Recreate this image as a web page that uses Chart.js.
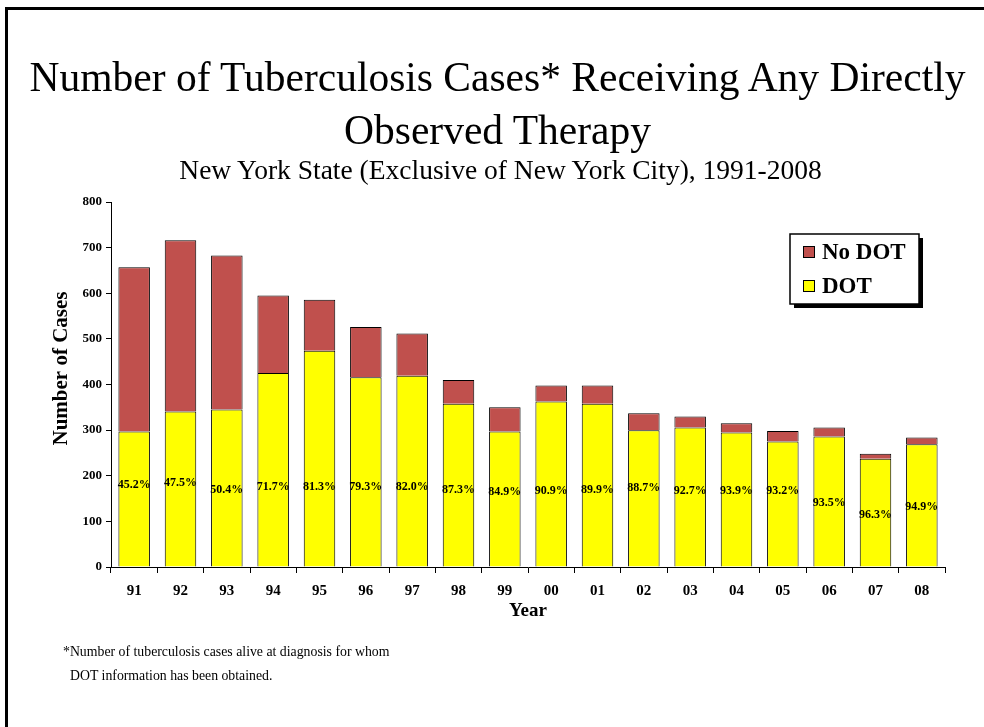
<!DOCTYPE html>
<html>
<head>
<meta charset="utf-8">
<script src="https://cdn.jsdelivr.net/npm/chart.js@4"></script>
<style>
  html, body { margin: 0; padding: 0; background: #fff; }
  #wrap { position: relative; width: 984px; height: 727px; overflow: hidden; font-family: "Liberation Serif", "Times New Roman", serif; }
  #frame { position: absolute; left: 5px; top: 7px; right: -10px; bottom: -10px; border-top: 3px solid #000; border-left: 3px solid #000; }
  .txt { position: absolute; white-space: nowrap; line-height: 1; color: #000; }
  #t1 { left: 0; width: 995px; text-align: center; top: 57px; font-size: 41.5px; }
  #t2 { left: 0; width: 995px; text-align: center; top: 110px; font-size: 41.5px; }
  #sub { left: 0; width: 1001px; text-align: center; top: 156px; font-size: 27.5px; }
  #f1 { left: 63px; top: 645px; font-size: 13.8px; }
  #f2 { left: 70px; top: 669px; font-size: 13.8px; }
  canvas { position: absolute; left: 0; top: 0; }
</style>
</head>
<body>
<div id="wrap">
  <div id="frame"></div>
  <canvas id="myChart" width="984" height="727"></canvas>
  <div class="txt" id="t1">Number of Tuberculosis Cases* Receiving Any Directly</div>
  <div class="txt" id="t2">Observed Therapy</div>
  <div class="txt" id="sub">New York State (Exclusive of New York City), 1991-2008</div>
  <div class="txt" id="f1">*Number of tuberculosis cases alive at diagnosis for whom</div>
  <div class="txt" id="f2">DOT information has been obtained.</div>
</div>
<script>
const years = ['91', '92', '93', '94', '95', '96', '97', '98', '99', '00', '01', '02', '03', '04', '05', '06', '07', '08'];
const dotCases = [297, 341, 345, 425, 474, 416, 419, 358, 297, 363, 358, 300, 306, 295, 275, 286, 237, 269];
const noDotCases = [360, 375, 338, 170, 112, 110, 93, 52, 53, 35, 40, 37, 24, 20, 23, 20, 11, 15];
const pctDot = ['45.2', '47.5', '50.4', '71.7', '81.3', '79.3', '82.0', '87.3', '84.9', '90.9', '89.9', '88.7', '92.7', '93.9', '93.2', '93.5', '96.3', '94.9'];
const yTicks = [0, 100, 200, 300, 400, 500, 600, 700, 800];

const serif = '"Liberation Serif", "Times New Roman", serif';

// where each % label sits, in axis units
const pctLevels = [180, 184, 169, 175, 175, 175, 175, 169, 164, 166, 169, 173, 166, 166, 166, 140, 114, 131];

const pctLabels = {
    id: 'pctLabels',
    afterDatasetsDraw(chart) {
        const { ctx } = chart;
        const meta = chart.getDatasetMeta(0);
        const y = chart.scales.y;
        ctx.save();
        ctx.font = 'bold 12px ' + serif;
        ctx.fillStyle = '#000';
        ctx.textAlign = 'center';
        ctx.textBaseline = 'middle';
        meta.data.forEach((bar, i) => {
            ctx.fillText(pctDot[i] + '%', bar.x, y.getPixelForValue(pctLevels[i]));
        });
        ctx.restore();
    }
};

// y title sits a bit above the axis middle in the original, so draw it by hand
const yTitle = {
    id: 'yTitle',
    afterDraw(chart) {
        const { ctx } = chart;
        const y = chart.scales.y;
        ctx.save();
        ctx.translate(62, y.getPixelForValue(435));
        ctx.rotate(-Math.PI / 2);
        ctx.font = 'bold 21px ' + serif;
        ctx.fillStyle = '#000';
        ctx.textAlign = 'center';
        ctx.textBaseline = 'middle';
        ctx.fillText('Number of Cases', 0, 0);
        ctx.restore();
    }
};

const boxLegend = {
    id: 'boxLegend',
    afterDraw(chart) {
        const { ctx, chartArea } = chart;
        const x = chartArea.right - 155, top = chartArea.top + 32, w = 129, h = 70;
        ctx.save();
        ctx.fillStyle = '#000';
        ctx.fillRect(x + 4, top + 4, w, h);
        ctx.fillStyle = '#fff';
        ctx.fillRect(x, top, w, h);
        ctx.strokeStyle = '#000';
        ctx.lineWidth = 1.5;
        ctx.strokeRect(x, top, w, h);
        // No DOT on top, DOT below
        const items = [chart.data.datasets[1], chart.data.datasets[0]];
        ctx.font = 'bold 23px ' + serif;
        ctx.textBaseline = 'middle';
        items.forEach((ds, i) => {
            const cy = top + 18 + i * 34;
            ctx.fillStyle = ds.backgroundColor;
            ctx.fillRect(x + 13, cy - 6, 12, 12);
            ctx.lineWidth = 1;
            ctx.strokeStyle = '#000';
            ctx.strokeRect(x + 13.5, cy - 5.5, 11, 11);
            ctx.fillStyle = '#000';
            ctx.fillText(ds.label, x + 32, cy + 1);
        });
        ctx.restore();
    }
};

const ctx = document.getElementById('myChart');
const myChart = new Chart(ctx, {
    type: 'bar',
    data: {
        labels: years,
        datasets: [
            {
                label: 'DOT',
                data: dotCases,
                backgroundColor: '#FFFF00',
                borderColor: '#000',
                borderWidth: 1,
            },
            {
                label: 'No DOT',
                data: noDotCases,
                backgroundColor: '#C0504D',
                borderColor: '#000',
                borderWidth: 1,
            }
        ]
    },
    options: {
        responsive: false,
        animation: false,
        layout: {
            padding: { left: 51, top: 202, right: 39, bottom: 105 },
        },
        datasets: {
            bar: {
                categoryPercentage: 1,
                barPercentage: 0.68,
            }
        },
        plugins: {
            legend: { display: false },
            title: { display: false },
            tooltip: { enabled: false },
        },
        scales: {
            x: {
                stacked: true,
                grid: {
                    offset: true,
                    drawOnChartArea: false,
                    tickLength: 6,
                    color: '#000',
                },
                border: { color: '#000', width: 1 },
                ticks: {
                    color: '#000',
                    padding: 9,
                    font: { family: serif, size: 15, weight: 'bold' },
                    maxRotation: 0,
                },
                title: {
                    display: true,
                    text: 'Year',
                    color: '#000',
                    padding: 0,
                    font: { family: serif, size: 19, weight: 'bold' },
                },
                afterFit(scale) { scale.height = 55; },
            },
            y: {
                stacked: true,
                min: 0,
                max: 800,
                afterBuildTicks(scale) { scale.ticks = yTicks.map(v => ({ value: v })); },
                grid: {
                    drawOnChartArea: false,
                    tickLength: 5,
                    color: '#000',
                },
                border: { color: '#000', width: 1 },
                ticks: {
                    color: '#000',
                    padding: 4,
                    font: { family: serif, size: 13, weight: 'bold' },
                },
                title: { display: false },
                afterFit(scale) { scale.width = 60; },
            }
        }
    },
    plugins: [pctLabels, yTitle, boxLegend],
});
</script>
</body>
</html>
